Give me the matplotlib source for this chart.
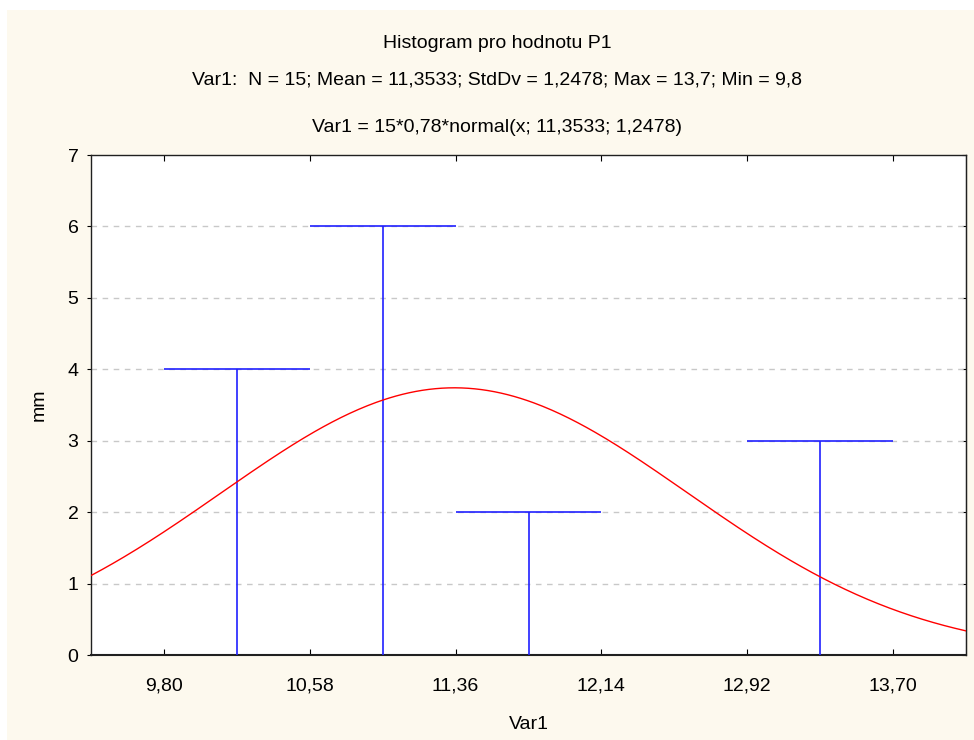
import numpy as np
import matplotlib
matplotlib.use("Agg")
import matplotlib.pyplot as plt
from matplotlib.patches import Rectangle

# Histogram data
bin_edges = [9.80, 10.58, 11.36, 12.14, 12.92, 13.70]
counts = [4, 6, 2, 0, 3]
x_ticks = [9.80, 10.58, 11.36, 12.14, 12.92, 13.70]
x_tick_labels = ["9,80", "10,58", "11,36", "12,14", "12,92", "13,70"]
y_ticks = [0, 1, 2, 3, 4, 5, 6, 7]

# Fitted normal curve parameters (from the chart subtitle)
n_obs = 15
bin_width = 0.78
mean = 11.3533
std = 1.2478

title = "Histogram pro hodnotu P1"
subtitle = "Var1:  N = 15; Mean = 11,3533; StdDv = 1,2478; Max = 13,7; Min = 9,8"
fit_label = "Var1 = 15*0,78*normal(x; 11,3533; 1,2478)"

plt.rcParams['font.family'] = ['Liberation Sans', 'DejaVu Sans']
plt.rcParams['font.size'] = 14

fig = plt.figure(figsize=(9.74, 7.40), dpi=100, facecolor='white')
# beige panel behind everything
fig.patches.append(Rectangle((7 / 974, 0), 1 - 7 / 974, 1 - 10 / 740,
                             transform=fig.transFigure, facecolor='#FDF9EE',
                             edgecolor='none', zorder=-10))

ax = fig.add_axes([91 / 974, 1 - 655 / 740, 875 / 974, 500 / 740])
ax.set_facecolor('white')

xmin = bin_edges[0] - bin_width / 2
xmax = bin_edges[-1] + bin_width / 2
ax.set_xlim(xmin, xmax)
ax.set_ylim(0, 7)

# gridlines
for y in y_ticks[1:-1]:
    ax.axhline(y, color='#C8C8C8', lw=1, ls=(0, (4, 4)), zorder=1)

# histogram drawn as "T" shapes: top line over the bin, stem at the bin centre
lefts = np.array(bin_edges[:-1])
rights = np.array(bin_edges[1:])
centers = (lefts + rights) / 2
cnt = np.array(counts)
keep = cnt > 0  # empty bins show nothing
ax.hlines(cnt[keep], lefts[keep], rights[keep], color='#2020FF', lw=1.2, zorder=3)
ax.vlines(centers[keep], 0, cnt[keep], color='#2020FF', lw=1.2, zorder=3)

# normal curve
xs = np.linspace(xmin, xmax, 400)
ys = n_obs * bin_width * np.exp(-0.5 * ((xs - mean) / std) ** 2) / (std * np.sqrt(2 * np.pi))
ax.plot(xs, ys, color='red', lw=1, zorder=4)

ax.set_xticks(x_ticks)
ax.set_xticklabels(x_tick_labels)
ax.set_yticks(y_ticks)
ax.tick_params(axis='x', direction='in', length=4, pad=16, top=True)
ax.tick_params(axis='y', direction='out', length=3, pad=6)

# right side: inward ticks, no labels
right = ax.secondary_yaxis('right')
right.set_yticks(y_ticks)
right.tick_params(direction='in', length=3, labelright=False)
right.spines['right'].set_color('#202020')

for sp in ax.spines.values():
    sp.set_color('#202020')
    sp.set_linewidth(1)
ax.spines['bottom'].set_linewidth(1.5)

ax.set_xlabel("Var1", labelpad=16)
ax.set_ylabel("mm", labelpad=14)

fig.text(497 / 974, 1 - 43 / 740, title, ha='center', va='center')
fig.text(497 / 974, 1 - 80 / 740, subtitle, ha='center', va='center')
fig.text(497 / 974, 1 - 128 / 740, fit_label, ha='center', va='center')

fig.savefig("out.png", dpi=100, facecolor=fig.get_facecolor())
